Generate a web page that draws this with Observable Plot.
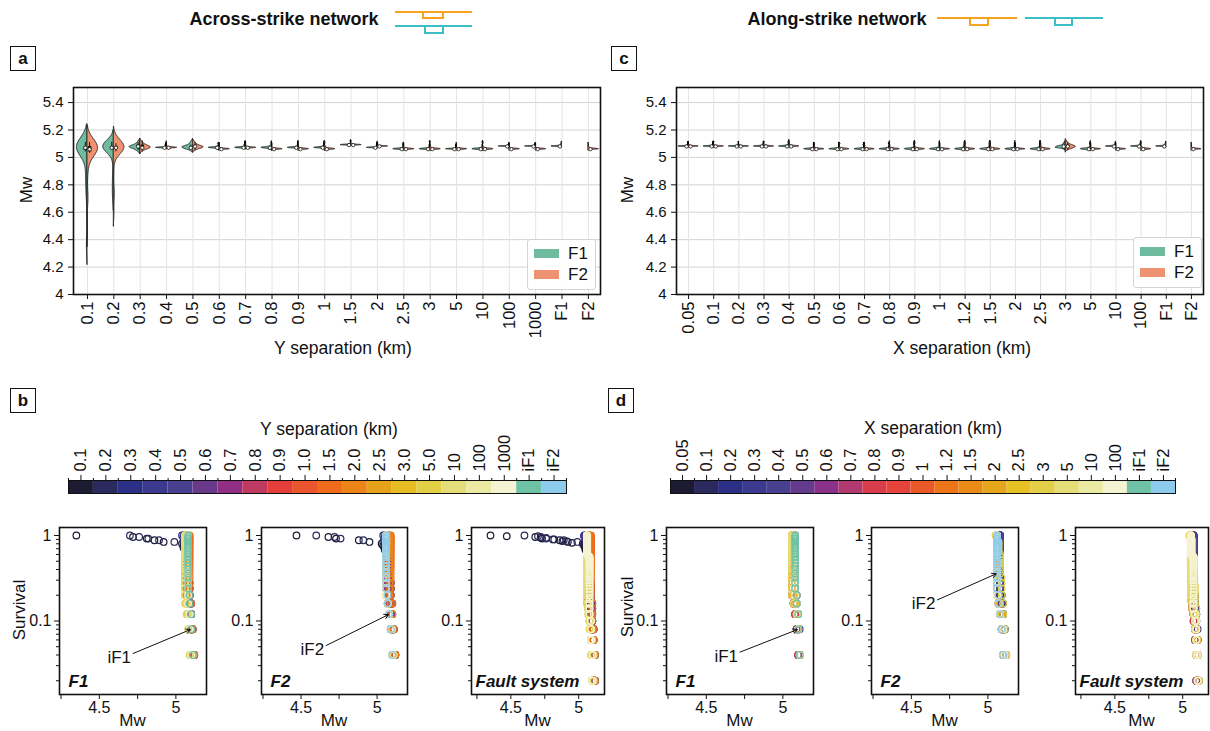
<!DOCTYPE html>
<html>
<head>
<meta charset="utf-8">
<script src="https://cdn.jsdelivr.net/npm/d3@7"></script>
<script src="https://cdn.jsdelivr.net/npm/@observablehq/plot@0.6"></script>
<style>
  html, body { margin: 0; padding: 0; background: #fff; }
  #fig { position: relative; width: 1210px; height: 731px; overflow: hidden;
         font-family: "Liberation Sans", Arial, Helvetica, sans-serif; color: #111; }
  .txt { position: absolute; white-space: nowrap; line-height: 1; }
  .tag { position: absolute; box-sizing: border-box; border: 1.6px solid #111; font-weight: bold;
         font-size: 17px; display: flex; align-items: center; justify-content: center; background: #fff; }
  .legend { position: absolute; box-sizing: border-box; border: 1px solid #d4d4d4; border-radius: 3px; background: rgba(255,255,255,0.92); }
  .legend .patch { position: absolute; width: 25px; height: 9px; }
  .legend .lab { position: absolute; font-size: 17px; line-height: 1; }
</style>
</head>
<body>
<div id="fig"></div>
<script>
// ---------- categories ----------
const acrossSeparations = ["0.1","0.2","0.3","0.4","0.5","0.6","0.7","0.8","0.9","1","1.5","2","2.5","3","5","10","100","1000"];
const alongSeparations  = ["0.05","0.1","0.2","0.3","0.4","0.5","0.6","0.7","0.8","0.9","1","1.2","1.5","2","2.5","3","5","10","100"];
const faultNames = ["F1","F2"];
const acrossColorLabels = ["0.1","0.2","0.3","0.4","0.5","0.6","0.7","0.8","0.9","1.0","1.5","2.0","2.5","3.0","5.0","10","100","1000","iF1","iF2"];
const alongColorLabels  = ["0.05","0.1","0.2","0.3","0.4","0.5","0.6","0.7","0.8","0.9","1","1.2","1.5","2","2.5","3","5","10","100","iF1","iF2"];

// ---------- colours ----------
const acrossColors = ["#1d1b31","#2b2a5e","#2c2f86","#3c3a8e","#4a4090","#693a8c","#912f85","#bf3a60","#e53e3b","#ea552d",
                      "#ef6b1c","#eb8518","#e6a21b","#e7bb22","#e3cf45","#e5dd7a","#eaeaa3","#f4f3d2","#6ec2a6","#8dcbec"];
const alongColors  = ["#1d1b31","#2b2a5e","#2c2f86","#3c3a8e","#4a4090","#653b8d","#8a318a","#b13a70","#d93c4d","#e6433a",
                      "#ea5a28","#ee7419","#e98b16","#e6a61b","#e8c125","#e2cf47","#e5dd78","#eaeaa2","#f4f3d2","#6ec2a6","#8dcbec"];
const faultColors  = ["#6fbb9f","#ee9272"];

// ---------- magnitudes of the 25 events per run (sorted) ----------
// across-strike network, fault F1, one run per separation
const acrossF1Mw = [
  [4.35,4.72,4.81,4.86,4.92, 5.04,5.05,5.05,5.06,5.06, 5.06,5.07,5.07,5.07,5.07, 5.07,5.08,5.08,5.08,5.08, 5.09,5.09,5.10,5.10,5.11],
  [4.70,4.76,4.82,4.89,4.99, 5.05,5.06,5.06,5.07,5.07, 5.07,5.07,5.07,5.08,5.08, 5.08,5.08,5.08,5.08,5.08, 5.09,5.09,5.10,5.10,5.11],
  [5.04,5.05,5.05,5.06,5.06, 5.06,5.07,5.07,5.07,5.07, 5.07,5.07,5.08,5.08,5.08, 5.08,5.08,5.08,5.09,5.09, 5.09,5.10,5.10,5.11,5.12],
  [5.07,5.07,5.07,5.07,5.07, 5.07,5.07,5.07,5.07,5.07, 5.07,5.07,5.07,5.07,5.07, 5.07,5.07,5.07,5.07,5.07, 5.08,5.08,5.09,5.09,5.10],
  [5.05,5.05,5.06,5.06,5.06, 5.06,5.07,5.07,5.07,5.07, 5.07,5.07,5.07,5.08,5.08, 5.08,5.08,5.08,5.08,5.09, 5.09,5.10,5.10,5.11,5.12],
  [5.06,5.06,5.06,5.07,5.07, 5.07,5.07,5.07,5.07,5.07, 5.07,5.07,5.07,5.07,5.07, 5.07,5.07,5.07,5.07,5.07, 5.08,5.08,5.09,5.10,5.10],
  [5.07,5.07,5.07,5.07,5.07, 5.07,5.07,5.07,5.07,5.07, 5.07,5.07,5.07,5.07,5.07, 5.07,5.07,5.07,5.07,5.07, 5.08,5.09,5.09,5.10,5.11],
  [5.06,5.06,5.06,5.06,5.07, 5.07,5.07,5.07,5.07,5.07, 5.07,5.07,5.07,5.07,5.07, 5.07,5.07,5.07,5.07,5.07, 5.08,5.08,5.09,5.10,5.11],
  [5.07,5.07,5.07,5.07,5.07, 5.07,5.07,5.07,5.07,5.07, 5.07,5.07,5.07,5.07,5.07, 5.07,5.07,5.07,5.07,5.07, 5.07,5.08,5.09,5.10,5.11],
  [5.07,5.07,5.07,5.07,5.07, 5.07,5.07,5.07,5.07,5.07, 5.07,5.07,5.07,5.07,5.07, 5.07,5.07,5.07,5.07,5.07, 5.08,5.08,5.09,5.10,5.11],
  [5.09,5.09,5.09,5.09,5.09, 5.09,5.09,5.09,5.09,5.09, 5.09,5.09,5.09,5.09,5.09, 5.09,5.09,5.09,5.09,5.09, 5.09,5.10,5.10,5.11,5.12],
  [5.07,5.07,5.07,5.07,5.07, 5.07,5.07,5.07,5.07,5.07, 5.07,5.07,5.07,5.07,5.07, 5.07,5.07,5.07,5.07,5.07, 5.07,5.08,5.08,5.09,5.10],
  [5.06,5.06,5.06,5.06,5.06, 5.06,5.06,5.06,5.06,5.06, 5.06,5.06,5.06,5.06,5.06, 5.06,5.06,5.06,5.06,5.06, 5.06,5.07,5.08,5.09,5.10],
  [5.06,5.06,5.06,5.06,5.06, 5.06,5.06,5.06,5.06,5.06, 5.06,5.06,5.06,5.06,5.06, 5.06,5.06,5.06,5.06,5.06, 5.06,5.07,5.08,5.09,5.11],
  [5.06,5.06,5.06,5.06,5.06, 5.06,5.06,5.06,5.06,5.06, 5.06,5.06,5.06,5.06,5.06, 5.06,5.06,5.06,5.06,5.06, 5.06,5.06,5.07,5.08,5.09],
  [5.06,5.06,5.06,5.06,5.06, 5.06,5.06,5.06,5.06,5.06, 5.06,5.06,5.06,5.06,5.06, 5.06,5.06,5.06,5.06,5.06, 5.06,5.07,5.08,5.09,5.11],
  [5.08,5.08,5.08,5.08,5.08, 5.08,5.08,5.08,5.08,5.08, 5.08,5.08,5.08,5.08,5.08, 5.08,5.08,5.08,5.08,5.08, 5.08,5.08,5.09,5.09,5.10],
  [5.08,5.08,5.08,5.08,5.08, 5.08,5.08,5.08,5.08,5.08, 5.08,5.08,5.08,5.08,5.08, 5.08,5.08,5.08,5.08,5.08, 5.08,5.08,5.09,5.09,5.10]
];
// across-strike network, fault F2
const acrossF2Mw = [
  [4.47,4.68,4.73,4.88,4.95, 5.03,5.04,5.05,5.05,5.06, 5.06,5.06,5.06,5.07,5.07, 5.07,5.07,5.07,5.08,5.08, 5.08,5.09,5.09,5.10,5.11],
  [4.60,4.72,4.76,4.91,5.04, 5.05,5.06,5.06,5.06,5.07, 5.07,5.07,5.07,5.07,5.07, 5.07,5.08,5.08,5.08,5.08, 5.08,5.09,5.09,5.10,5.12],
  [5.04,5.05,5.05,5.06,5.06, 5.06,5.06,5.07,5.07,5.07, 5.07,5.07,5.07,5.08,5.08, 5.08,5.08,5.08,5.09,5.09, 5.09,5.10,5.10,5.11,5.12],
  [5.07,5.07,5.07,5.07,5.07, 5.07,5.07,5.07,5.07,5.07, 5.07,5.07,5.07,5.07,5.07, 5.07,5.07,5.07,5.07,5.07, 5.07,5.08,5.09,5.10,5.11],
  [5.05,5.05,5.06,5.06,5.06, 5.07,5.07,5.07,5.07,5.07, 5.07,5.07,5.08,5.08,5.08, 5.08,5.08,5.08,5.09,5.09, 5.09,5.10,5.10,5.11,5.12],
  [5.06,5.06,5.06,5.06,5.06, 5.06,5.06,5.06,5.06,5.06, 5.06,5.06,5.06,5.06,5.06, 5.06,5.06,5.06,5.06,5.06, 5.07,5.07,5.08,5.09,5.10],
  [5.07,5.07,5.07,5.07,5.07, 5.07,5.07,5.07,5.07,5.07, 5.07,5.07,5.07,5.07,5.07, 5.07,5.07,5.07,5.07,5.07, 5.07,5.08,5.09,5.10,5.11],
  [5.06,5.06,5.06,5.06,5.06, 5.06,5.06,5.06,5.06,5.06, 5.06,5.06,5.06,5.06,5.06, 5.06,5.06,5.06,5.06,5.06, 5.06,5.07,5.08,5.09,5.10],
  [5.06,5.06,5.06,5.06,5.06, 5.06,5.06,5.06,5.06,5.06, 5.06,5.06,5.06,5.06,5.06, 5.06,5.06,5.06,5.06,5.06, 5.06,5.07,5.08,5.09,5.11],
  [5.06,5.06,5.06,5.06,5.06, 5.06,5.06,5.06,5.06,5.06, 5.06,5.06,5.06,5.06,5.06, 5.06,5.06,5.06,5.06,5.06, 5.07,5.08,5.08,5.10,5.11],
  [5.09,5.09,5.09,5.09,5.09, 5.09,5.09,5.09,5.09,5.09, 5.09,5.09,5.09,5.09,5.09, 5.09,5.09,5.09,5.09,5.09, 5.09,5.10,5.10,5.11,5.12],
  [5.08,5.08,5.08,5.08,5.08, 5.08,5.08,5.08,5.08,5.08, 5.08,5.08,5.08,5.08,5.08, 5.08,5.08,5.08,5.08,5.08, 5.08,5.09,5.10,5.10,5.11],
  [5.06,5.06,5.06,5.06,5.06, 5.06,5.06,5.06,5.06,5.06, 5.06,5.06,5.06,5.06,5.06, 5.06,5.06,5.06,5.06,5.06, 5.06,5.07,5.08,5.09,5.10],
  [5.06,5.06,5.06,5.06,5.06, 5.06,5.06,5.06,5.06,5.06, 5.06,5.06,5.06,5.06,5.06, 5.06,5.06,5.06,5.06,5.06, 5.06,5.07,5.08,5.09,5.11],
  [5.06,5.06,5.06,5.06,5.06, 5.06,5.06,5.06,5.06,5.06, 5.06,5.06,5.06,5.06,5.06, 5.06,5.06,5.06,5.06,5.06, 5.06,5.07,5.08,5.09,5.10],
  [5.06,5.06,5.06,5.06,5.06, 5.06,5.06,5.06,5.06,5.06, 5.06,5.06,5.06,5.06,5.06, 5.06,5.06,5.06,5.06,5.06, 5.06,5.07,5.08,5.10,5.11],
  [5.06,5.06,5.06,5.06,5.06, 5.06,5.06,5.06,5.06,5.06, 5.06,5.06,5.06,5.06,5.06, 5.06,5.06,5.06,5.06,5.06, 5.06,5.07,5.08,5.09,5.10],
  [5.06,5.06,5.06,5.06,5.06, 5.06,5.06,5.06,5.06,5.06, 5.06,5.06,5.06,5.06,5.06, 5.06,5.06,5.06,5.06,5.06, 5.06,5.07,5.08,5.09,5.10]
];
// along-strike network, fault F1
const alongF1Mw = [
  [5.08,5.08,5.08,5.08,5.08, 5.08,5.08,5.08,5.08,5.08, 5.08,5.08,5.08,5.08,5.08, 5.08,5.08,5.08,5.08,5.08, 5.08,5.09,5.09,5.10,5.11],
  [5.08,5.08,5.08,5.08,5.08, 5.08,5.08,5.08,5.08,5.08, 5.08,5.08,5.08,5.08,5.08, 5.08,5.08,5.08,5.08,5.08, 5.08,5.09,5.10,5.10,5.11],
  [5.08,5.08,5.08,5.08,5.08, 5.08,5.08,5.08,5.08,5.08, 5.08,5.08,5.08,5.08,5.08, 5.08,5.08,5.08,5.08,5.08, 5.08,5.08,5.09,5.10,5.11],
  [5.08,5.08,5.08,5.08,5.08, 5.08,5.08,5.08,5.08,5.08, 5.08,5.08,5.08,5.08,5.08, 5.08,5.08,5.08,5.08,5.08, 5.09,5.09,5.10,5.10,5.11],
  [5.08,5.08,5.08,5.08,5.08, 5.08,5.08,5.08,5.08,5.08, 5.08,5.08,5.08,5.08,5.08, 5.08,5.08,5.08,5.08,5.08, 5.09,5.09,5.10,5.11,5.11],
  [5.06,5.06,5.06,5.06,5.06, 5.06,5.06,5.06,5.06,5.06, 5.06,5.06,5.06,5.06,5.06, 5.06,5.06,5.06,5.06,5.06, 5.06,5.07,5.08,5.09,5.10],
  [5.06,5.06,5.06,5.06,5.06, 5.06,5.06,5.06,5.06,5.06, 5.06,5.06,5.06,5.06,5.06, 5.06,5.06,5.06,5.06,5.06, 5.06,5.07,5.08,5.09,5.10],
  [5.06,5.06,5.06,5.06,5.06, 5.06,5.06,5.06,5.06,5.06, 5.06,5.06,5.06,5.06,5.06, 5.06,5.06,5.06,5.06,5.06, 5.06,5.08,5.09,5.09,5.10],
  [5.06,5.06,5.06,5.06,5.06, 5.06,5.06,5.06,5.06,5.06, 5.06,5.06,5.06,5.06,5.06, 5.06,5.06,5.06,5.06,5.06, 5.06,5.07,5.08,5.10,5.10],
  [5.06,5.06,5.06,5.06,5.06, 5.06,5.06,5.06,5.06,5.06, 5.06,5.06,5.06,5.06,5.06, 5.06,5.06,5.06,5.06,5.06, 5.06,5.07,5.09,5.10,5.11],
  [5.06,5.06,5.06,5.06,5.06, 5.06,5.06,5.06,5.06,5.06, 5.06,5.06,5.06,5.06,5.06, 5.06,5.06,5.06,5.06,5.06, 5.07,5.08,5.09,5.10,5.11],
  [5.06,5.06,5.06,5.06,5.06, 5.06,5.06,5.06,5.06,5.06, 5.06,5.06,5.06,5.06,5.06, 5.06,5.06,5.06,5.06,5.06, 5.08,5.08,5.09,5.10,5.11],
  [5.06,5.06,5.06,5.06,5.06, 5.06,5.06,5.06,5.06,5.06, 5.06,5.06,5.06,5.06,5.06, 5.06,5.06,5.06,5.06,5.06, 5.07,5.08,5.09,5.10,5.11],
  [5.06,5.06,5.06,5.06,5.06, 5.06,5.06,5.06,5.06,5.06, 5.06,5.06,5.06,5.06,5.06, 5.06,5.06,5.06,5.06,5.06, 5.06,5.08,5.09,5.10,5.11],
  [5.06,5.06,5.06,5.06,5.06, 5.06,5.06,5.06,5.06,5.06, 5.06,5.06,5.06,5.06,5.06, 5.06,5.06,5.06,5.06,5.06, 5.07,5.08,5.09,5.10,5.11],
  [5.06,5.06,5.07,5.07,5.07, 5.07,5.07,5.07,5.07,5.07, 5.07,5.07,5.08,5.08,5.08, 5.08,5.08,5.08,5.08,5.08, 5.09,5.09,5.10,5.10,5.11],
  [5.06,5.06,5.06,5.06,5.06, 5.06,5.06,5.06,5.06,5.06, 5.06,5.06,5.06,5.06,5.06, 5.06,5.06,5.06,5.06,5.06, 5.06,5.07,5.09,5.10,5.11],
  [5.08,5.08,5.08,5.08,5.08, 5.08,5.08,5.08,5.08,5.08, 5.08,5.08,5.08,5.08,5.08, 5.08,5.08,5.08,5.08,5.08, 5.08,5.09,5.10,5.10,5.11],
  [5.08,5.08,5.08,5.08,5.08, 5.08,5.08,5.08,5.08,5.08, 5.08,5.08,5.08,5.08,5.08, 5.08,5.08,5.08,5.08,5.08, 5.08,5.09,5.10,5.10,5.11]
];
// along-strike network, fault F2
const alongF2Mw = [
  [5.08,5.08,5.08,5.08,5.08, 5.08,5.08,5.08,5.08,5.08, 5.08,5.08,5.08,5.08,5.08, 5.08,5.08,5.08,5.08,5.08, 5.08,5.09,5.09,5.10,5.11],
  [5.08,5.08,5.08,5.08,5.08, 5.08,5.08,5.08,5.08,5.08, 5.08,5.08,5.08,5.08,5.08, 5.08,5.08,5.08,5.08,5.08, 5.08,5.09,5.10,5.11,5.11],
  [5.08,5.08,5.08,5.08,5.08, 5.08,5.08,5.08,5.08,5.08, 5.08,5.08,5.08,5.08,5.08, 5.08,5.08,5.08,5.08,5.08, 5.08,5.09,5.09,5.10,5.11],
  [5.08,5.08,5.08,5.08,5.08, 5.08,5.08,5.08,5.08,5.08, 5.08,5.08,5.08,5.08,5.08, 5.08,5.08,5.08,5.08,5.08, 5.09,5.09,5.10,5.11,5.11],
  [5.08,5.08,5.08,5.08,5.08, 5.08,5.08,5.08,5.08,5.08, 5.08,5.08,5.08,5.08,5.08, 5.08,5.08,5.08,5.08,5.08, 5.09,5.10,5.10,5.11,5.12],
  [5.06,5.06,5.06,5.06,5.06, 5.06,5.06,5.06,5.06,5.06, 5.06,5.06,5.06,5.06,5.06, 5.06,5.06,5.06,5.06,5.06, 5.06,5.07,5.08,5.09,5.10],
  [5.06,5.06,5.06,5.06,5.06, 5.06,5.06,5.06,5.06,5.06, 5.06,5.06,5.06,5.06,5.06, 5.06,5.06,5.06,5.06,5.06, 5.06,5.07,5.09,5.10,5.10],
  [5.06,5.06,5.06,5.06,5.06, 5.06,5.06,5.06,5.06,5.06, 5.06,5.06,5.06,5.06,5.06, 5.06,5.06,5.06,5.06,5.06, 5.06,5.08,5.08,5.09,5.10],
  [5.06,5.06,5.06,5.06,5.06, 5.06,5.06,5.06,5.06,5.06, 5.06,5.06,5.06,5.06,5.06, 5.06,5.06,5.06,5.06,5.06, 5.06,5.07,5.08,5.09,5.11],
  [5.06,5.06,5.06,5.06,5.06, 5.06,5.06,5.06,5.06,5.06, 5.06,5.06,5.06,5.06,5.06, 5.06,5.06,5.06,5.06,5.06, 5.06,5.07,5.08,5.10,5.11],
  [5.06,5.06,5.06,5.06,5.06, 5.06,5.06,5.06,5.06,5.06, 5.06,5.06,5.06,5.06,5.06, 5.06,5.06,5.06,5.06,5.06, 5.06,5.07,5.08,5.09,5.10],
  [5.06,5.06,5.06,5.06,5.06, 5.06,5.06,5.06,5.06,5.06, 5.06,5.06,5.06,5.06,5.06, 5.06,5.06,5.06,5.06,5.06, 5.06,5.07,5.09,5.10,5.11],
  [5.06,5.06,5.06,5.06,5.06, 5.06,5.06,5.06,5.06,5.06, 5.06,5.06,5.06,5.06,5.06, 5.06,5.06,5.06,5.06,5.06, 5.06,5.08,5.09,5.10,5.11],
  [5.06,5.06,5.06,5.06,5.06, 5.06,5.06,5.06,5.06,5.06, 5.06,5.06,5.06,5.06,5.06, 5.06,5.06,5.06,5.06,5.06, 5.06,5.07,5.08,5.09,5.10],
  [5.06,5.06,5.06,5.06,5.06, 5.06,5.06,5.06,5.06,5.06, 5.06,5.06,5.06,5.06,5.06, 5.06,5.06,5.06,5.06,5.06, 5.07,5.08,5.09,5.10,5.11],
  [5.05,5.06,5.06,5.06,5.07, 5.07,5.07,5.07,5.07,5.07, 5.08,5.08,5.08,5.08,5.08, 5.08,5.08,5.09,5.09,5.09, 5.09,5.10,5.10,5.11,5.12],
  [5.06,5.06,5.06,5.06,5.06, 5.06,5.06,5.06,5.06,5.06, 5.06,5.06,5.06,5.06,5.06, 5.06,5.06,5.06,5.06,5.06, 5.06,5.07,5.08,5.09,5.10],
  [5.06,5.06,5.06,5.06,5.06, 5.06,5.06,5.06,5.06,5.06, 5.06,5.06,5.06,5.06,5.06, 5.06,5.06,5.06,5.06,5.06, 5.06,5.07,5.08,5.09,5.10],
  [5.06,5.06,5.06,5.06,5.06, 5.06,5.06,5.06,5.06,5.06, 5.06,5.06,5.06,5.06,5.06, 5.06,5.06,5.06,5.06,5.06, 5.06,5.07,5.08,5.10,5.11]
];
// isolated faults (no network)
const isolatedF1Mw = [5.08,5.08,5.08,5.08,5.08, 5.08,5.08,5.08,5.08,5.08, 5.08,5.08,5.08,5.08,5.08, 5.08,5.08,5.08,5.08,5.08, 5.09,5.09,5.10,5.10,5.11];
const isolatedF2Mw = [5.06,5.06,5.06,5.06,5.06, 5.06,5.06,5.06,5.06,5.06, 5.06,5.06,5.06,5.06,5.06, 5.06,5.06,5.06,5.06,5.06, 5.07,5.07,5.08,5.09,5.10];

const mwTicks = [4, 4.2, 4.4, 4.6, 4.8, 5, 5.2, 5.4];
const survivalMinorTicks = [0.02,0.03,0.04,0.05,0.06,0.07,0.08,0.09,0.2,0.3,0.4,0.5,0.6,0.7,0.8,0.9];

// ---------- helpers ----------
const FONT = '"Liberation Sans", Arial, Helvetica, sans-serif';
const fig = document.getElementById("fig");
const baseStyle = {fontFamily: FONT, fontSize: "14px", background: "transparent", color: "#111", overflow: "visible"};

function place(node, left, top) {
  node.style.position = "absolute";
  node.style.left = left + "px";
  node.style.top = top + "px";
  fig.appendChild(node);
  return node;
}
function addText(str, x, y, o = {}) {
  const d = document.createElement("div");
  d.className = "txt";
  d.textContent = str;
  d.style.left = x + "px";
  d.style.top = y + "px";
  d.style.fontSize = (o.size || 17) + "px";
  if (o.bold) d.style.fontWeight = "bold";
  d.style.transform = "translate(-50%,-50%)" + (o.rotate ? ` rotate(${o.rotate}deg)` : "");
  fig.appendChild(d);
}
function addTag(letter, x, y) {
  const d = document.createElement("div");
  d.className = "tag";
  d.textContent = letter;
  d.style.left = x + "px"; d.style.top = y + "px";
  d.style.width = "26px"; d.style.height = "25px";
  fig.appendChild(d);
}
function addLegend(x, y) {
  const d = document.createElement("div");
  d.className = "legend";
  d.style.left = x + "px"; d.style.top = y + "px";
  d.style.width = "69px"; d.style.height = "51px";
  faultNames.forEach((f, i) => {
    const p = document.createElement("div");
    p.className = "patch"; p.style.left = "6px"; p.style.top = (9 + 21 * i) + "px"; p.style.background = faultColors[i];
    const t = document.createElement("div");
    t.className = "lab"; t.textContent = f; t.style.left = "40px"; t.style.top = (5 + 21 * i) + "px";
    d.appendChild(p); d.appendChild(t);
  });
  fig.appendChild(d);
}

// ---------- split violins (Gaussian KDE, scaled Scott bandwidth, cut = 2) ----------
const HALF = 0.4, BW_ADJUST = 0.75;
function buildViolins(f1List, f2List, isoF1, isoF2) {
  const area = [], flat = [], box = [];
  function half(values, c, side, fault) {
    const v = values.slice().sort(d3.ascending), n = v.length;
    const q1 = d3.quantile(v, 0.25), med = d3.quantile(v, 0.5), q3 = d3.quantile(v, 0.75), iqr = q3 - q1;
    const lo = d3.min(v.filter(x => x >= q1 - 1.5 * iqr)), hi = d3.max(v.filter(x => x <= q3 + 1.5 * iqr));
    box.push({xi: c + side * 0.08, q1, q3, med, lo, hi});
    const sd = d3.deviation(v);
    if (!(sd > 1e-9)) { flat.push({y: v[0], c, x: c + side * HALF}); return; }
    const bw = BW_ADJUST * sd * Math.pow(n, -0.2), y0 = v[0] - 2 * bw, y1 = v[n - 1] + 2 * bw, m = 300;
    const rows = []; let mx = 0;
    for (let k = 0; k <= m; k++) {
      const y = y0 + (y1 - y0) * k / m;
      let s = 0;
      for (const x of v) { const u = (y - x) / bw; s += Math.exp(-0.5 * u * u); }
      rows.push([y, s]); if (s > mx) mx = s;
    }
    const key = fault + ":" + c;
    rows.forEach(([y, s]) => area.push({key, fault, y, c, x: c + side * HALF * s / mx}));
  }
  f1List.forEach((vals, i) => { half(vals, i, -1, "F1"); half(f2List[i], i, 1, "F2"); });
  half(isoF1, f1List.length, -1, "F1");
  half(isoF2, f1List.length + 1, 1, "F2");
  return {area, flat, box};
}

function violinPanel(cats, f1List, f2List, left, xDomain) {
  const {area, flat, box} = buildViolins(f1List, f2List, isolatedF1Mw, isolatedF2Mw);
  const idx = d3.range(cats.length);
  const svg = Plot.plot({
    width: 606, height: 280, marginLeft: 73, marginRight: 6, marginTop: 7, marginBottom: 66,
    style: baseStyle,
    x: {domain: xDomain},
    y: {domain: [4, 5.51]},
    color: {domain: faultNames, range: faultColors},
    marks: [
      Plot.gridY({ticks: mwTicks, stroke: "#d2d2d2", strokeOpacity: 1}),
      Plot.gridX({ticks: idx, stroke: "#e4e4e4", strokeOpacity: 1}),
      Plot.areaX(area, {y: "y", x1: "c", x2: "x", z: "key", fill: "fault", stroke: "#1a1a1a", strokeWidth: 0.9}),
      Plot.ruleY(flat, {y: "y", x1: "c", x2: "x", stroke: "#1a1a1a", strokeWidth: 1.1}),
      Plot.ruleX(box, {x: "xi", y1: "lo", y2: "hi", stroke: "#1a1a1a", strokeWidth: 1}),
      Plot.ruleX(box, {x: "xi", y1: "q1", y2: "q3", stroke: "#1a1a1a", strokeWidth: 3.5}),
      Plot.dot(box, {x: "xi", y: "med", r: 1.7, fill: "white", stroke: "#1a1a1a", strokeWidth: 0.8}),
      Plot.axisY({ticks: mwTicks, tickFormat: d => String(+d.toFixed(1)), tickSize: 5, tickPadding: 5, fontSize: 15, label: null}),
      Plot.axisX({ticks: idx, tickFormat: i => cats[i], tickRotate: -90, tickSize: 5, tickPadding: 2, fontSize: 16.5, label: null}),
      Plot.frame({stroke: "#111", strokeWidth: 1.6})
    ]
  });
  place(svg, left, 80);
}

// ---------- colour bars ----------
function colorBar(labels, colors, barLeft, barWidth) {
  const n = labels.length, idx = d3.range(n);
  const ml = 10, mr = 10, mt = 75, bh = 13, mb = 3;
  const svg = Plot.plot({
    width: barWidth + ml + mr, height: mt + bh + mb,
    marginLeft: ml, marginRight: mr, marginTop: mt, marginBottom: mb,
    style: baseStyle,
    x: {domain: [0, n]},
    y: {domain: [0, 1], axis: null},
    color: {type: "identity"},
    marks: [
      Plot.rect(idx, {x1: i => i, x2: i => i + 1, y1: 0, y2: 1, fill: i => colors[i]}),
      Plot.axisX({anchor: "top", ticks: d3.range(n + 1), tickSize: 3, tickFormat: () => "", label: null}),
      Plot.axisX({anchor: "top", ticks: idx.map(i => i + 0.5), tickSize: 6, tickPadding: 3,
                  tickFormat: t => labels[Math.floor(t)], tickRotate: -90, fontSize: 16.5, label: null}),
      Plot.frame({stroke: "#111", strokeWidth: 1})
    ]
  });
  place(svg, barLeft - ml, 480 - mt);
}

// ---------- survival curves ----------
function survivalPanel({series, frameLeft, frameWidth, xDomain, name, nameDx, note}) {
  const ml = 55, mr = 6, mt = 12, mb = 37, h = 216;
  const pts = [];
  series.forEach(s => {
    const v = s.values.slice().sort(d3.ascending), n = v.length;
    v.forEach((m, k) => pts.push({mw: m, surv: (n - k) / n, color: s.color, name: s.name}));
  });
  const marks = [
    Plot.dot(pts, {x: "mw", y: "surv", stroke: "color", r: 3.3, strokeWidth: 1.2}),
    Plot.axisY({ticks: survivalMinorTicks, tickSize: 3, tickFormat: () => "", label: null}),
    Plot.axisY({ticks: [0.1, 1], tickSize: 5, tickPadding: 3, tickFormat: d => (d === 1 ? "1" : "0.1"), fontSize: 16, label: null}),
    Plot.axisX({ticks: [4.25, 4.5, 4.75, 5], tickSize: 5, tickPadding: 2,
                tickFormat: d => (d === 4.5 ? "4.5" : d === 5 ? "5" : ""), fontSize: 16, label: null}),
    Plot.frame({stroke: "#111", strokeWidth: 1.6}),
    Plot.text([name], {text: d => d, frameAnchor: "bottom-left", textAnchor: "start", dx: nameDx, dy: -8,
                       fontWeight: "bold", fontStyle: "italic", fontSize: 17})
  ];
  if (note) {
    const target = pts.find(p => p.name === note.label && Math.abs(p.surv - note.survival) < 1e-6);
    const a = {x2: target.mw, y2: target.surv, x1: target.mw + note.mwShift, y1: target.surv * note.survScale, label: note.label};
    marks.push(Plot.arrow([a], {x1: "x1", y1: "y1", x2: "x2", y2: "y2", stroke: "#111", strokeWidth: 1, headLength: 7, insetEnd: 1}));
    marks.push(Plot.text([a], {x: "x1", y: "y1", text: "label", textAnchor: "end", dx: -2, dy: 4, fontSize: 17}));
  }
  const svg = Plot.plot({
    width: frameWidth + ml + mr, height: h, marginLeft: ml, marginRight: mr, marginTop: mt, marginBottom: mb,
    style: baseStyle,
    x: {domain: xDomain},
    y: {type: "log", domain: [0.0138, 1.24]},
    color: {type: "identity"},
    marks
  });
  place(svg, frameLeft - ml, 515);
  addText("Mw", frameLeft + frameWidth / 2, 720, {size: 17});
}

function seriesFor(seps, colors, lists, iso, isoName) {
  const out = seps.map((s, i) => ({name: s, color: colors[i], values: lists[i]}));
  if (iso) out.push({name: isoName, color: colors[isoName === "iF1" ? seps.length : seps.length + 1], values: iso});
  return out;
}
function systemSeries(seps, colors, l1, l2) {
  return seps.map((s, i) => ({name: s, color: colors[i], values: l1[i].concat(l2[i])}));
}

// ---------- header ----------
addText("Across-strike network", 284, 19, {size: 18, bold: true});
addText("Along-strike network", 837, 19, {size: 18, bold: true});
const hdr = document.createElementNS("http://www.w3.org/2000/svg", "svg");
hdr.setAttribute("width", 1210); hdr.setAttribute("height", 40);
hdr.innerHTML = `
  <g fill="none" stroke-width="2">
    <line x1="395" y1="12" x2="472" y2="12" stroke="#f6a31e"/><rect x="423" y="12" width="20" height="6" stroke="#f6a31e"/>
    <line x1="395" y1="26" x2="472" y2="26" stroke="#3dbdc6"/><rect x="425" y="26" width="18" height="7" stroke="#3dbdc6"/>
    <line x1="937" y1="18" x2="1017" y2="18" stroke="#f6a31e"/><rect x="970" y="18" width="18" height="7" stroke="#f6a31e"/>
    <line x1="1025" y1="18" x2="1103" y2="18" stroke="#3dbdc6"/><rect x="1055" y="18" width="17" height="7" stroke="#3dbdc6"/>
  </g>`;
place(hdr, 0, 0);

// ---------- panels a and c ----------
const catsA = acrossSeparations.concat(faultNames);
const catsC = alongSeparations.concat(faultNames);
violinPanel(catsA, acrossF1Mw, acrossF2Mw, 0, [-0.53, catsA.length - 0.54]);
violinPanel(catsC, alongF1Mw, alongF2Mw, 603, [-0.48, catsC.length - 0.52]);
addLegend(527, 239);
addLegend(1133, 237);
addText("Mw", 26, 190, {size: 17, rotate: -90});
addText("Mw", 627, 190, {size: 17, rotate: -90});
addText("Y separation (km)", 343, 349, {size: 17.5});
addText("X separation (km)", 962, 349, {size: 17.5});
addTag("a", 10, 46);
addTag("c", 611, 46);

// ---------- panels b and d ----------
addTag("b", 10, 388);
addTag("d", 608, 388);
colorBar(acrossColorLabels, acrossColors, 68, 498);
colorBar(alongColorLabels, alongColors, 670, 505);
addText("Y separation (km)", 329, 430, {size: 17.5});
addText("X separation (km)", 933, 429, {size: 17.5});

const dF = [4.24, 5.2], dS = [4.21, 5.19];
survivalPanel({series: seriesFor(acrossSeparations, acrossColors, acrossF1Mw, isolatedF1Mw, "iF1"),
  frameLeft: 59, frameWidth: 147, xDomain: dF, name: "F1", nameDx: 9,
  note: {label: "iF1", survival: 0.08, mwShift: -0.38, survScale: 0.52}});
survivalPanel({series: seriesFor(acrossSeparations, acrossColors, acrossF2Mw, isolatedF2Mw, "iF2"),
  frameLeft: 261, frameWidth: 146, xDomain: dF, name: "F2", nameDx: 9,
  note: {label: "iF2", survival: 0.12, mwShift: -0.415, survScale: 0.43}});
survivalPanel({series: systemSeries(acrossSeparations, acrossColors, acrossF1Mw, acrossF2Mw),
  frameLeft: 471, frameWidth: 133, xDomain: dS, name: "Fault system", nameDx: 4});
survivalPanel({series: seriesFor(alongSeparations, alongColors, alongF1Mw, isolatedF1Mw, "iF1"),
  frameLeft: 666, frameWidth: 147, xDomain: dF, name: "F1", nameDx: 9,
  note: {label: "iF1", survival: 0.08, mwShift: -0.38, survScale: 0.54}});
survivalPanel({series: seriesFor(alongSeparations, alongColors, alongF2Mw, isolatedF2Mw, "iF2"),
  frameLeft: 871, frameWidth: 147, xDomain: dF, name: "F2", nameDx: 9,
  note: {label: "iF2", survival: 0.36, mwShift: -0.39, survScale: 0.49}});
survivalPanel({series: systemSeries(alongSeparations, alongColors, alongF1Mw, alongF2Mw),
  frameLeft: 1075, frameWidth: 133, xDomain: dS, name: "Fault system", nameDx: 4});
addText("Survival", 19, 610, {size: 17, rotate: -90});
addText("Survival", 627, 607, {size: 17, rotate: -90});
</script>
</body>
</html>
